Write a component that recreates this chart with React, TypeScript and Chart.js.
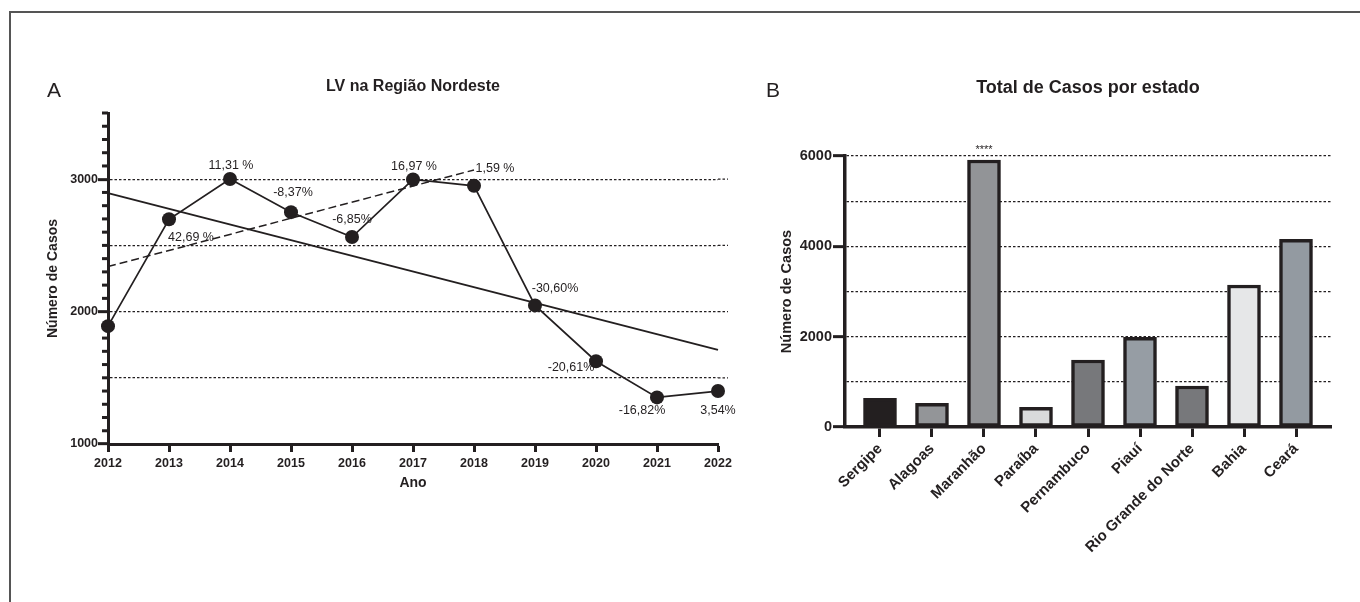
import React, { useEffect, useRef } from "react";
import { Chart, registerables } from "chart.js";

Chart.register(...registerables);

// ---------- Data: panel A (LV na Região Nordeste) ----------
const anos = [2012, 2013, 2014, 2015, 2016, 2017, 2018, 2019, 2020, 2021, 2022];
const casos = [1890, 2697, 3002, 2751, 2563, 2998, 2950, 2047, 1625, 1352, 1400];
const variacao = ["", "42,69 %", "11,31 %", "-8,37%", "-6,85%", "16,97 %", "1,59 %", "-30,60%", "-20,61%", "-16,82%", "3,54%"];
const tendenciaGeralAnos = [2012, 2022];
const tendenciaGeral = [2895, 1711];
const tendenciaInicialAnos = [2012, 2018];
const tendenciaInicial = [2340, 3070];
const gradeA = [1500, 2000, 2500, 3000];
const yMinA = 1000;
const yMaxA = 3500;

// ---------- Data: panel B (Total de Casos por estado) ----------
const estados = ["Sergipe", "Alagoas", "Maranhão", "Paraíba", "Pernambuco", "Piauí", "Rio Grande do Norte", "Bahia", "Ceará"];
const totalEstado = [635, 524, 5911, 436, 1483, 1985, 908, 3144, 4155];
const destaqueEstado = ["", "", "****", "", "", "", "", "", ""];
const yMaxB = 6000;

// ---------- Styles ----------
const INK = "#231f20";
const FONT = '"Liberation Sans", Arial, Helvetica, sans-serif';
const coresEstado = ["#231f20", "#939598", "#929497", "#d9dadb", "#77787b", "#969da4", "#77787b", "#e6e7e8", "#939aa1"];
// label offsets (px) relative to each point, for the percent labels
const labelOffsets: [number, number][] = [
  [0, 0], [22, 18], [1, -13], [2, -20], [0, -18], [1, -13], [21, -17], [20, -17], [-25, 6], [-15, 13], [0, 20],
];

function txt(ctx: CanvasRenderingContext2D, s: string, x: number, y: number, font: string, align: CanvasTextAlign = "center", base: CanvasTextBaseline = "middle") {
  ctx.save();
  ctx.font = font;
  ctx.fillStyle = INK;
  ctx.textAlign = align;
  ctx.textBaseline = base;
  ctx.fillText(s, x, y);
  ctx.restore();
}

const panelAPlugin = {
  id: "panelA",
  beforeDatasetsDraw(chart: any) {
    const { ctx, chartArea, scales } = chart;
    ctx.save();
    ctx.strokeStyle = INK;
    ctx.lineWidth = 1.3;
    ctx.setLineDash([2.5, 2]);
    gradeA.forEach((v) => {
      const py = scales.y.getPixelForValue(v);
      ctx.beginPath();
      ctx.moveTo(chartArea.right, py);
      ctx.lineTo(chartArea.right + 10, py);
      ctx.stroke();
    });
    ctx.restore();
  },
  afterDraw(chart: any) {
    const { ctx, chartArea, scales } = chart;
    const ys = scales.y;
    const xs = scales.x;
    ctx.save();
    ctx.strokeStyle = INK;
    ctx.lineWidth = 3;
    for (let v = yMinA + 100; v <= yMaxA; v += 100) {
      if (v % 1000 === 0) continue;
      const py = ys.getPixelForValue(v);
      ctx.beginPath();
      ctx.moveTo(chartArea.left - 6, py);
      ctx.lineTo(chartArea.left, py);
      ctx.stroke();
    }
    ctx.restore();
    anos.forEach((a, i) => {
      if (!variacao[i]) return;
      const px = xs.getPixelForValue(a) + labelOffsets[i][0];
      const py = ys.getPixelForValue(casos[i]) + labelOffsets[i][1];
      txt(ctx, variacao[i], px, py, `12.5px ${FONT}`);
    });
    txt(ctx, "LV na Região Nordeste", (chartArea.left + chartArea.right) / 2, 87, `bold 16px ${FONT}`);
    txt(ctx, "A", 47, 97, `21px ${FONT}`, "left", "alphabetic");
  },
};

const panelBPlugin = {
  id: "panelB",
  afterDraw(chart: any) {
    const { ctx, chartArea, scales } = chart;
    estados.forEach((_, i) => {
      if (!destaqueEstado[i]) return;
      const px = scales.x.getPixelForValue(i);
      const py = scales.y.getPixelForValue(yMaxB) - 6;
      txt(ctx, destaqueEstado[i], px, py, `11px ${FONT}`);
    });
    txt(ctx, "Total de Casos por estado", (chartArea.left + chartArea.right) / 2, 88, `bold 18px ${FONT}`);
    txt(ctx, "B", 6, 97, `21px ${FONT}`, "left", "alphabetic");
  },
};

function PanelA() {
  const ref = useRef<HTMLCanvasElement>(null);
  useEffect(() => {
    if (!ref.current) return;
    const chart = new Chart(ref.current, {
      type: "line",
      data: {
        datasets: [
          {
            data: anos.map((x, i) => ({ x, y: casos[i] })),
            borderColor: INK,
            borderWidth: 1.7,
            pointRadius: 7,
            pointBackgroundColor: INK,
            pointBorderColor: INK,
            pointBorderWidth: 0,
            tension: 0,
            clip: false,
            order: 1,
          },
          {
            data: tendenciaGeralAnos.map((x, i) => ({ x, y: tendenciaGeral[i] })),
            borderColor: INK,
            borderWidth: 2,
            pointRadius: 0,
            clip: false,
            order: 2,
          },
          {
            data: tendenciaInicialAnos.map((x, i) => ({ x, y: tendenciaInicial[i] })),
            borderColor: INK,
            borderWidth: 1.5,
            borderDash: [8, 4],
            pointRadius: 0,
            clip: false,
            order: 2,
          },
        ],
      },
      options: {
        responsive: false,
        animation: false,
        layout: { padding: { left: 45, right: 42, top: 113, bottom: 110 } },
        plugins: { legend: { display: false }, tooltip: { enabled: false }, title: { display: false } },
        scales: {
          x: {
            type: "linear",
            min: anos[0],
            max: anos[anos.length - 1],
            afterFit: (s: any) => {
              s.height = 48;
              s.paddingLeft = 0;
              s.paddingRight = 0;
            },
            ticks: {
              stepSize: 1,
              autoSkip: false,
              maxRotation: 0,
              callback: (v: any) => String(v),
              font: { family: FONT, size: 12.5, weight: "bold" },
              color: INK,
              padding: 4,
            },
            grid: { drawOnChartArea: false, tickLength: 8, tickWidth: 3, tickColor: INK },
            border: { display: true, color: INK, width: 3 },
            title: { display: true, text: "Ano", font: { family: FONT, size: 14, weight: "bold" }, color: INK, padding: 0 },
          },
          y: {
            type: "linear",
            min: yMinA,
            max: yMaxA,
            afterFit: (s: any) => {
              s.width = 63;
              s.paddingTop = 0;
              s.paddingBottom = 0;
            },
            ticks: {
              stepSize: 500,
              autoSkip: false,
              callback: (v: any) => (v % 1000 === 0 ? String(v) : ""),
              font: { family: FONT, size: 12.5, weight: "bold" },
              color: INK,
              padding: 0,
            },
            grid: {
              color: (c: any) => (c.tick && gradeA.includes(c.tick.value) ? INK : "transparent"),
              lineWidth: 1.3,
              tickLength: 10,
              tickWidth: 3,
              tickColor: (c: any) => (c.tick && c.tick.value % 1000 === 0 ? INK : "transparent"),
            },
            border: { display: true, color: INK, width: 3, dash: [2.5, 2] },
            title: { display: true, text: "Número de Casos", font: { family: FONT, size: 14, weight: "bold" }, color: INK, padding: 0 },
          },
        },
      },
      plugins: [panelAPlugin],
    } as any);
    return () => chart.destroy();
  }, []);
  return <canvas ref={ref} width={760} height={602} style={{ position: "absolute", left: 0, top: 0, width: 760, height: 602 }} />;
}

function PanelB() {
  const ref = useRef<HTMLCanvasElement>(null);
  useEffect(() => {
    if (!ref.current) return;
    const chart = new Chart(ref.current, {
      type: "bar",
      data: {
        datasets: [
          {
            data: estados.map((_, i) => ({ x: i, y: totalEstado[i] })),
            backgroundColor: coresEstado,
            borderColor: INK,
            borderWidth: 3.5,
            barThickness: 33,
            borderSkipped: false,
          },
        ],
      },
      options: {
        responsive: false,
        animation: false,
        layout: { padding: { left: 18, right: 29, top: 156, bottom: 45 } },
        plugins: { legend: { display: false }, tooltip: { enabled: false }, title: { display: false } },
        scales: {
          x: {
            type: "linear",
            min: -0.673,
            max: estados.length - 1 + 0.673,
            offset: false,
            afterBuildTicks: (s: any) => {
              s.ticks = estados.map((_, i) => ({ value: i }));
            },
            afterFit: (s: any) => {
              s.height = 130;
              s.paddingLeft = 0;
              s.paddingRight = 0;
            },
            ticks: {
              autoSkip: false,
              minRotation: 45,
              maxRotation: 45,
              callback: (v: any) => estados[v] ?? "",
              font: { family: FONT, size: 15, weight: "bold" },
              color: INK,
              padding: 3,
            },
            grid: { drawOnChartArea: false, offset: false, tickLength: 10, tickWidth: 3, tickColor: INK },
            border: { display: true, color: INK, width: 3.5 },
          },
          y: {
            type: "linear",
            min: 0,
            max: yMaxB,
            afterFit: (s: any) => {
              s.width = 67;
              s.paddingTop = 0;
              s.paddingBottom = 0;
            },
            ticks: {
              stepSize: 1000,
              autoSkip: false,
              callback: (v: any) => (v % 2000 === 0 ? String(v) : ""),
              font: { family: FONT, size: 14.5, weight: "bold" },
              color: INK,
              padding: 1,
            },
            grid: {
              color: (c: any) => (c.tick && c.tick.value > 0 ? INK : "transparent"),
              lineWidth: 1.3,
              tickLength: 12,
              tickWidth: 3,
              tickColor: (c: any) => (c.tick && c.tick.value % 2000 === 0 ? INK : "transparent"),
            },
            border: { display: true, color: INK, width: 3.5, dash: [2.5, 2] },
            title: { display: true, text: "Número de Casos", font: { family: FONT, size: 14.5, weight: "bold" }, color: INK, padding: 0 },
          },
        },
      },
      plugins: [panelBPlugin],
    } as any);
    return () => chart.destroy();
  }, []);
  return <canvas ref={ref} width={600} height={602} style={{ position: "absolute", left: 760, top: 0, width: 600, height: 602 }} />;
}

export default function App() {
  return (
    <div style={{ position: "absolute", left: 0, top: 0, width: 1360, height: 602, overflow: "hidden", background: "#fff" }}>
      <div
        style={{
          position: "absolute",
          left: 9,
          top: 11,
          width: 1400,
          height: 700,
          borderTop: "2px solid #555",
          borderLeft: "2px solid #555",
        }}
      />
      <PanelA />
      <PanelB />
    </div>
  );
}
